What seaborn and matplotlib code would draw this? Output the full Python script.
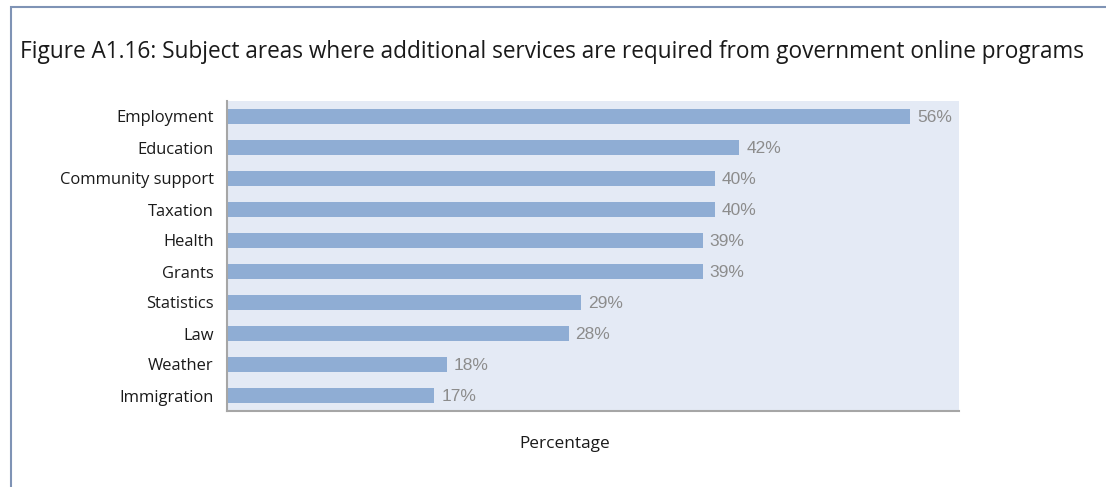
import matplotlib
matplotlib.use("Agg")
import matplotlib.pyplot as plt
import seaborn as sns
import pandas as pd
from matplotlib.patches import Rectangle

categories = ["Employment", "Education", "Community support", "Taxation", "Health",
              "Grants", "Statistics", "Law", "Weather", "Immigration"]
percentages = [56, 42, 40, 40, 39, 39, 29, 28, 18, 17]

title = "Figure A1.16: Subject areas where additional services are required from government online programs"
x_label = "Percentage"

df = pd.DataFrame({"category": categories, "pct": percentages})

sns.set_theme(style="white")
plt.rcParams["font.family"] = ["Open Sans", "DejaVu Sans"]

W, H = 1106, 487
fig = plt.figure(figsize=(W / 100, H / 100), dpi=100)

# plot area in pixel coordinates
left, right, top, bottom = 227, 959, 101, 411
ax = fig.add_axes([left / W, 1 - bottom / H, (right - left) / W, (bottom - top) / H])
ax.set_facecolor("#e4eaf5")

sns.barplot(data=df, x="pct", y="category", ax=ax, color="#8fadd4",
            saturation=1, width=0.46, orient="h", linewidth=0)

ax.set_xlim(0, 60)
ax.set_ylim(len(categories) - 0.5, -0.5)
ax.set_xticks([])
ax.set_xlabel("")
ax.set_ylabel("")
ax.tick_params(axis="y", length=0, pad=9.5, labelsize=11.9, labelcolor="#1a1a1a")

for side in ["top", "right"]:
    ax.spines[side].set_visible(False)
for side in ["left", "bottom"]:
    ax.spines[side].set_color("#a6a6a6")
    ax.spines[side].set_linewidth(1.5)

for i, v in enumerate(percentages):
    ax.annotate(f"{v}%", xy=(v, i), xytext=(5, -1), textcoords="offset points",
                va="center", ha="left", fontsize=12.5, color="#8c8c8c",
                family=["Liberation Sans", "DejaVu Sans"])

fig.text(20 / W, 1 - 52 / H, title, fontsize=16.3, color="#1a1a1a",
         ha="left", va="center")
fig.text(565 / W, 1 - 444 / H, x_label, fontsize=12.4, color="#1a1a1a",
         ha="center", va="center")

# outer frame
fig.patches.append(Rectangle((11 / W, -0.01), 1.2, 1 - 7 / H + 0.01,
                             transform=fig.transFigure, fill=False,
                             edgecolor="#7f93b5", linewidth=1.5))

fig.savefig("out.png", dpi=100)
